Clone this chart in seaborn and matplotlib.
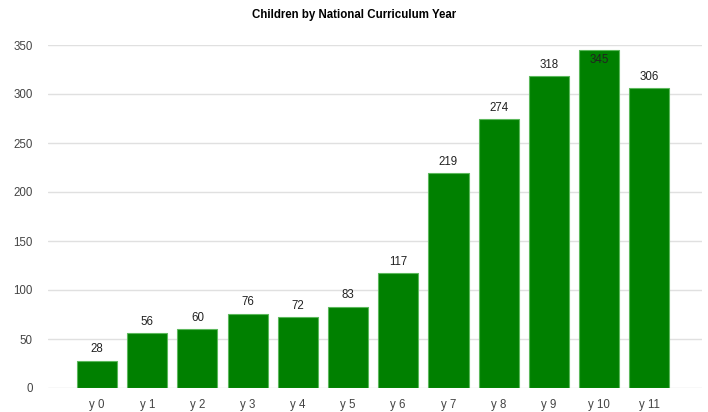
import matplotlib
matplotlib.use("Agg")
import matplotlib.pyplot as plt
import seaborn as sns
import pandas as pd

years = ["y 0", "y 1", "y 2", "y 3", "y 4", "y 5", "y 6", "y 7", "y 8", "y 9", "y 10", "y 11"]
children = [28, 56, 60, 76, 72, 83, 117, 219, 274, 318, 345, 306]
y_ticks = [0, 50, 100, 150, 200, 250, 300, 350]

sns.set_theme(style="white")
plt.rcParams["font.family"] = ["Liberation Sans", "DejaVu Sans"]

df = pd.DataFrame({"year": years, "children": children})

fig = plt.figure(figsize=(7.08, 4.12), dpi=100)
ax = fig.add_axes([48 / 708, 1 - 388 / 412, 654 / 708, (388 - 45) / 412])

sns.barplot(data=df, x="year", y="children", color="#008000", saturation=1,
            width=0.8, edgecolor="#5cb85c", linewidth=0.8, ax=ax, zorder=3)

ax.set_ylim(0, 350)
ax.set_xlim(-0.976, 12.05)
ax.set_yticks(y_ticks)
ax.set_yticklabels([str(t) for t in y_ticks])
ax.yaxis.grid(True, color="#e0e0e0", linewidth=1, zorder=0)
ax.set_axisbelow(True)
for s in ax.spines.values():
    s.set_visible(False)
ax.tick_params(axis="both", length=0, labelsize=8.3, labelcolor="#444444")
ax.tick_params(axis="x", pad=8)
ax.tick_params(axis="y", pad=11)
ax.set_xlabel("")
ax.set_ylabel("")

for i, v in enumerate(children):
    if v > 330:
        ax.annotate(str(v), (i, v), xytext=(0, -3), textcoords="offset points",
                    ha="center", va="top", fontsize=8.3, color="#222222",
                    annotation_clip=False)
    else:
        ax.annotate(str(v), (i, v), xytext=(0, 4), textcoords="offset points",
                    ha="center", va="bottom", fontsize=8.3, color="#222222",
                    annotation_clip=False)

fig.text(354 / 708, 1 - 15 / 412, "Children by National Curriculum Year",
         ha="center", va="center", fontsize=8.3, fontweight="bold", color="#000000")

fig.savefig("out.png", dpi=100, facecolor="white")
